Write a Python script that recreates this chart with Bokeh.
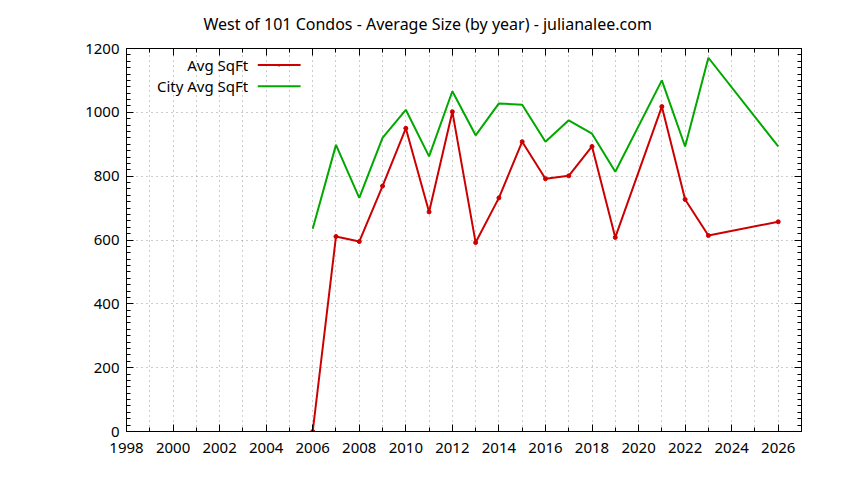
from bokeh.plotting import figure
from bokeh.models import (ColumnDataSource, LinearAxis, SingleIntervalTicker,
                          Range1d, Label, Arrow, Title)
from bokeh.embed import file_html
from bokeh.resources import INLINE

# values
years = [2006, 2007, 2008, 2009, 2010, 2011, 2012, 2013, 2014, 2015,
         2016, 2017, 2018, 2019, 2021, 2022, 2023, 2026]
avg_sqft = [0, 611, 595, 769, 950, 688, 1002, 592, 732, 908,
            792, 801, 893, 608, 1018, 727, 614, 657]
city_avg_sqft = [635, 898, 732, 920, 1008, 862, 1066, 928, 1028, 1024,
                 908, 975, 933, 814, 1100, 893, 1171, 893]

title = "West of 101 Condos - Average Size (by year) - julianalee.com"
series_labels = ["Avg SqFt", "City Avg SqFt"]

RED = "#cc0000"
GREEN = "#00a800"
FONT = "Noto Sans"

source = ColumnDataSource(dict(year=years, avg=avg_sqft, city=city_avg_sqft))

p = figure(
    width=828, height=464,
    x_range=Range1d(1998, 2027), y_range=Range1d(0, 1200),
    output_backend="svg", toolbar_location=None, tools="",
    min_border_left=126, min_border_right=27,
    min_border_top=48, min_border_bottom=33,
)
p.background_fill_color = "white"
p.border_fill_color = "white"
p.outline_line_color = "black"
p.outline_line_width = 1

bottom_axis = p.below[0]
left_axis = p.left[0]

x_ticker = SingleIntervalTicker(interval=2, num_minor_ticks=2)
y_ticker = SingleIntervalTicker(interval=200, num_minor_ticks=10)

bottom_axis.ticker = x_ticker
left_axis.ticker = y_ticker

top_axis = LinearAxis(ticker=x_ticker)
right_axis = LinearAxis(ticker=y_ticker)
p.add_layout(top_axis, "above")
p.add_layout(right_axis, "right")

for ax in [bottom_axis, left_axis, top_axis, right_axis]:
    ax.axis_line_color = "black"
    ax.major_tick_line_color = "black"
    ax.minor_tick_line_color = "black"
    ax.major_tick_in = 7
    ax.major_tick_out = 0
    ax.minor_tick_in = 4
    ax.minor_tick_out = 0
    ax.major_label_text_font = FONT
    ax.major_label_text_font_size = "15px"
    ax.major_label_text_color = "black"

for ax in [top_axis, right_axis]:
    ax.major_label_text_font_size = "1px"
    ax.major_label_text_color = None
    ax.major_label_standoff = 0

bottom_axis.major_label_standoff = 11
left_axis.major_label_standoff = 7

p.xgrid.ticker = SingleIntervalTicker(interval=1)
p.ygrid.ticker = SingleIntervalTicker(interval=200)
p.grid.grid_line_color = "#999999"
p.grid.grid_line_dash = "1 4"
p.grid.grid_line_width = 1

p.line("year", "avg", source=source, line_color=RED, line_width=2)
p.scatter("year", "avg", source=source, size=4, color=RED)
p.line("year", "city", source=source, line_color=GREEN, line_width=2)

# gnuplot-style key: text right-aligned, sample to its right
key_y = [1148, 1082]
key_colors = [RED, GREEN]
for label, ky, col in zip(series_labels, key_y, key_colors):
    p.add_layout(Label(x=2003.23, y=ky, text=label, text_align="right",
                       text_baseline="middle", text_font=FONT,
                       text_font_size="15px", text_color="black"))
    p.add_layout(Arrow(x_start=2003.64, y_start=ky, x_end=2005.48, y_end=ky,
                       end=None, line_color=col, line_width=2))
p.add_layout(Label(x=2004.55, y=key_y[0], text="●", text_align="center",
                   text_baseline="middle", text_font_size="6px",
                   text_color=RED))

p.add_layout(Title(text=title, align="left", offset=77, standoff=24,
                   vertical_align="top",
                   text_font=FONT, text_font_size="16px",
                   text_font_style="normal", text_color="black"), "above")

open("out.html", "w").write(file_html(p, INLINE))
